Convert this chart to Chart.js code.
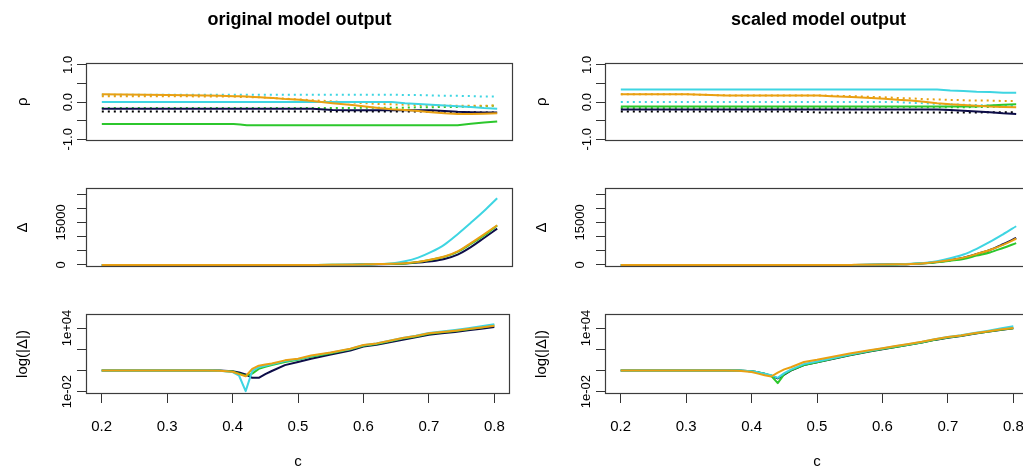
<!DOCTYPE html>
<html><head><meta charset="utf-8">
<script src="https://cdn.jsdelivr.net/npm/chart.js@4"></script>
<style>
html,body{margin:0;padding:0;background:#fff;overflow:hidden;width:1023px;height:471px;position:relative;}
canvas{position:absolute;}
</style></head><body>
<canvas id="oRho"></canvas><canvas id="oDelta"></canvas><canvas id="oLog"></canvas>
<canvas id="sRho"></canvas><canvas id="sDelta"></canvas><canvas id="sLog"></canvas>
<script>
// ---------- shared x grid (c) and tick labels ----------
const cValues = [0.20,0.30,0.36,0.38,0.40,0.41,0.42,0.43,0.44,0.45,0.46,0.48,0.50,0.52,0.55,0.58,0.60,0.62,0.64,0.66,0.68,0.70,0.72,0.74,0.76,0.78,0.80];
const xTickValues = [0.2,0.3,0.4,0.5,0.6,0.7,0.8];
const xTickLabels = ['0.2','0.3','0.4','0.5','0.6','0.7','0.8'];
const rhoTickValues = [-1,-0.5,0,0.5,1];
const rhoTickLabels = ['-1.0','','0.0','','1.0'];
const deltaTickValues = [0,5000,10000,15000,20000,25000];
const deltaTickLabels = ['0','','','15000','',''];
const logTickValues = [-2,0,2,4];            // log10 |Δ|
const logTickLabels = ['1e-02','','','1e+04'];
const panelTitles = ['original model output','scaled model output'];

// ---------- original model output: ρ (solid / dotted) ----------
const rhoOrigNavy     = [-0.18,-0.18,-0.18,-0.18,-0.18,-0.18,-0.18,-0.18,-0.18,-0.18,-0.18,-0.18,-0.18,-0.18,-0.21,-0.22,-0.22,-0.22,-0.22,-0.22,-0.22,-0.22,-0.24,-0.26,-0.27,-0.28,-0.28];
const rhoOrigCyan     = [0.00,0.00,0.00,0.00,0.00,0.00,0.00,0.00,0.00,0.00,0.00,0.00,0.00,0.00,0.00,0.00,0.00,0.00,0.00,-0.03,-0.05,-0.07,-0.09,-0.11,-0.13,-0.16,-0.18];
const rhoOrigGreen    = [-0.59,-0.59,-0.59,-0.59,-0.59,-0.60,-0.62,-0.62,-0.62,-0.62,-0.62,-0.62,-0.62,-0.62,-0.62,-0.62,-0.62,-0.62,-0.62,-0.62,-0.62,-0.62,-0.62,-0.62,-0.58,-0.55,-0.52];
const rhoOrigOrange   = [0.21,0.19,0.18,0.17,0.16,0.16,0.15,0.14,0.13,0.12,0.11,0.08,0.06,0.03,-0.03,-0.08,-0.12,-0.16,-0.19,-0.21,-0.24,-0.27,-0.30,-0.32,-0.32,-0.31,-0.30];
const rhoOrigNavyDot  = [-0.25,-0.25,-0.25,-0.25,-0.25,-0.25,-0.25,-0.25,-0.25,-0.25,-0.25,-0.25,-0.25,-0.25,-0.25,-0.25,-0.25,-0.25,-0.25,-0.25,-0.25,-0.26,-0.26,-0.27,-0.27,-0.28,-0.28];
const rhoOrigCyanDot  = [0.20,0.20,0.20,0.20,0.20,0.20,0.20,0.20,0.20,0.20,0.20,0.20,0.20,0.20,0.20,0.20,0.20,0.20,0.20,0.19,0.19,0.18,0.17,0.17,0.16,0.15,0.15];
const rhoOrigGreenDot = [-0.16,-0.16,-0.16,-0.16,-0.16,-0.16,-0.16,-0.16,-0.16,-0.16,-0.16,-0.16,-0.16,-0.16,-0.16,-0.16,-0.15,-0.15,-0.15,-0.15,-0.14,-0.14,-0.13,-0.13,-0.12,-0.11,-0.09];
const rhoOrigOrangeDot= [0.16,0.16,0.15,0.15,0.15,0.14,0.14,0.13,0.13,0.12,0.11,0.09,0.07,0.05,0.02,-0.01,-0.03,-0.05,-0.06,-0.07,-0.08,-0.09,-0.09,-0.10,-0.10,-0.10,-0.09];

// ---------- scaled model output: ρ ----------
const rhoScalNavy     = [-0.20,-0.20,-0.20,-0.20,-0.20,-0.20,-0.20,-0.20,-0.20,-0.20,-0.20,-0.20,-0.20,-0.20,-0.20,-0.20,-0.20,-0.20,-0.20,-0.20,-0.20,-0.21,-0.23,-0.25,-0.27,-0.30,-0.32];
const rhoScalCyan     = [0.34,0.34,0.34,0.34,0.34,0.34,0.34,0.34,0.34,0.34,0.34,0.34,0.34,0.34,0.34,0.34,0.34,0.34,0.34,0.34,0.34,0.31,0.30,0.28,0.27,0.25,0.25];
const rhoScalGreen    = [-0.12,-0.12,-0.12,-0.12,-0.12,-0.12,-0.12,-0.12,-0.12,-0.12,-0.12,-0.12,-0.12,-0.12,-0.12,-0.12,-0.12,-0.12,-0.12,-0.12,-0.12,-0.12,-0.12,-0.12,-0.09,-0.07,-0.06];
const rhoScalOrange   = [0.21,0.21,0.18,0.18,0.18,0.18,0.18,0.18,0.18,0.18,0.18,0.18,0.18,0.16,0.14,0.11,0.09,0.06,0.04,0.01,-0.03,-0.06,-0.08,-0.10,-0.12,-0.13,-0.14];
const rhoScalNavyDot  = [-0.25,-0.25,-0.25,-0.25,-0.25,-0.25,-0.25,-0.25,-0.25,-0.25,-0.25,-0.26,-0.28,-0.28,-0.28,-0.28,-0.28,-0.28,-0.28,-0.28,-0.28,-0.28,-0.28,-0.28,-0.27,-0.27,-0.27];
const rhoScalCyanDot  = [0.00,0.00,0.00,0.00,0.00,0.00,0.00,0.00,0.00,0.00,0.00,0.00,0.00,0.00,0.00,0.00,0.00,0.00,-0.02,-0.03,-0.05,-0.06,-0.07,-0.08,-0.09,-0.09,-0.09];
const rhoScalGreenDot = [-0.16,-0.16,-0.16,-0.16,-0.16,-0.16,-0.16,-0.16,-0.16,-0.16,-0.16,-0.16,-0.16,-0.16,-0.16,-0.14,-0.14,-0.14,-0.14,-0.14,-0.14,-0.14,-0.14,-0.13,-0.13,-0.12,-0.12];
const rhoScalOrangeDot= [0.21,0.21,0.18,0.18,0.18,0.18,0.18,0.18,0.18,0.18,0.18,0.18,0.18,0.17,0.16,0.14,0.13,0.11,0.10,0.08,0.07,0.06,0.05,0.04,0.04,0.03,0.03];

// ---------- Δ ----------
const deltaOrigNavy   = [1,1,1,1,1,1,0,0,0,0,1,3,6,13,32,80,160,250,380,560,850,1300,2100,3650,6300,9500,12800];
const deltaOrigCyan   = [1,1,1,1,1,0,0,1,2,3,4,8,11,22,50,110,200,330,540,1300,2600,4600,7200,10850,14850,19000,23500];
const deltaOrigGreen  = [1,1,1,1,1,0,0,0,1,2,3,6,10,20,42,100,200,320,400,560,1050,1850,2900,4650,7400,10400,13900];
const deltaOrigOrange = [1,1,1,1,1,0,0,1,3,4,4,9,13,25,50,110,220,350,420,600,1100,1950,3000,4800,7700,10800,14000];
const deltaScalNavy   = [1,1,1,1,1,1,0,0,0,0,1,3,6,10,26,60,130,230,360,620,1050,1700,2550,3850,5300,7300,9500];
const deltaScalCyan   = [1,1,1,1,1,1,0,0,0,1,1,4,7,13,32,70,130,240,400,680,1350,2400,3700,5700,8100,10800,13640];
const deltaScalGreen  = [1,1,1,1,1,1,0,0,0,0,1,3,6,11,28,63,120,210,340,580,1000,1500,2100,3300,4400,6000,7700];
const deltaScalOrange = [1,1,1,1,1,1,0,0,1,1,2,6,10,18,40,80,140,240,380,640,1100,1750,2600,3900,5300,7100,9250];

// ---------- log10 |Δ| ----------
const logOrigNavy   = [0,0,0,0,-0.08,-0.20,-0.38,-0.70,-0.70,-0.35,-0.05,0.50,0.80,1.10,1.50,1.88,2.25,2.42,2.65,2.90,3.12,3.37,3.50,3.63,3.78,3.93,4.10];
const logOrigCyan   = [0,0,0,-0.02,-0.15,-0.50,-1.95,-0.05,0.30,0.45,0.58,0.88,1.05,1.35,1.68,2.03,2.38,2.55,2.80,3.05,3.27,3.52,3.67,3.82,3.98,4.16,4.35];
const logOrigGreen  = [0,0,0,-0.02,-0.10,-0.30,-0.50,-0.30,0.15,0.35,0.50,0.80,1.00,1.30,1.62,2.00,2.33,2.50,2.75,3.00,3.20,3.45,3.60,3.72,3.88,4.05,4.25];
const logOrigOrange = [0,0,0,-0.03,-0.12,-0.35,-0.55,0.15,0.45,0.55,0.65,0.95,1.10,1.40,1.70,2.05,2.40,2.55,2.80,3.05,3.25,3.50,3.62,3.75,3.90,4.05,4.22];
const logScalNavy   = [0,0,0,0,-0.08,-0.18,-0.32,-0.50,-0.75,-0.40,-0.02,0.50,0.76,1.02,1.42,1.78,2.00,2.20,2.42,2.63,2.88,3.08,3.25,3.46,3.64,3.82,3.97];
const logScalCyan   = [0,0,0,0,-0.08,-0.18,-0.32,-0.45,-0.70,-0.25,0.08,0.60,0.85,1.10,1.50,1.85,2.07,2.27,2.47,2.68,2.95,3.15,3.32,3.53,3.73,3.95,4.17];
const logScalGreen  = [0,0,0,0,-0.08,-0.18,-0.30,-0.50,-1.19,-0.35,0.00,0.50,0.78,1.05,1.45,1.80,2.02,2.22,2.43,2.64,2.90,3.10,3.26,3.47,3.65,3.83,3.98];
const logScalOrange = [0,0,0,-0.03,-0.15,-0.30,-0.45,-0.57,-0.20,0.10,0.30,0.80,1.00,1.25,1.60,1.90,2.10,2.30,2.50,2.70,2.95,3.15,3.30,3.50,3.68,3.85,4.00];

// ---------- styles ----------
const COL = {navy:'#0d0d48', cyan:'#3ed5e2', green:'#2cc72c', orange:'#e9a012'};
const FAMILY = '"Liberation Sans", Arial, Helvetica, sans-serif';
const YTICK_FONT = 13;
Chart.defaults.font.family = FAMILY;

function ds(values, color, dotted, smooth){
  return {
    data: values.map((v,i)=>({x:cValues[i], y:v})),
    borderColor: color, backgroundColor: color, borderWidth: 2,
    pointRadius: 0, fill: false, tension: 0,
    cubicInterpolationMode: smooth ? 'monotone' : 'default',
    borderDash: dotted ? [2,4] : [], borderCapStyle: 'butt', borderJoinStyle: 'round'
  };
}

const measureCtx = document.createElement('canvas').getContext('2d');
function widest(labels){
  measureCtx.font = `normal ${YTICK_FONT}px ${FAMILY}`;
  return Math.max(...labels.map(l=>measureCtx.measureText(l).width));
}

const boxPlugin = {
  id:'box',
  afterDatasetsDraw(chart){
    const {ctx, chartArea:a} = chart;
    ctx.save();
    ctx.strokeStyle = '#3c3c3c'; ctx.lineWidth = 1.2;
    const l = Math.round(a.left)+0.5, t = Math.round(a.top)+0.5;
    const r = Math.round(a.right)-0.5, b = Math.round(a.bottom)-0.5;
    ctx.strokeRect(l, t, r-l, b-t);
    ctx.restore();
  }
};

const CANVAS_W = 520, AXIS_W = 86, RIGHT_PAD = 7, TICK_LEN = 9;

function makePanel(id, colX, top, height, cfg){
  const cv = document.getElementById(id);
  cv.width = CANVAS_W; cv.height = height;
  cv.style.left = colX+'px'; cv.style.top = top+'px';
  cv.style.width = CANVAS_W+'px'; cv.style.height = height+'px';
  const yPad = AXIS_W - TICK_LEN - cfg.labelCx - widest(cfg.yLabels)/2;
  new Chart(cv, {
    type:'line',
    data:{datasets: cfg.datasets},
    plugins:[boxPlugin],
    options:{
      responsive:false, animation:false, events:[],
      layout:{padding:{top:cfg.padTop, bottom:cfg.padBottom, left:0, right:RIGHT_PAD}},
      plugins:{
        legend:{display:false}, tooltip:{enabled:false},
        title: cfg.title ? {display:true, text:cfg.title, fullSize:false, color:'#000',
               font:{size:18, weight:'bold', family:FAMILY}, padding:{top:9, bottom:32}} : {display:false}
      },
      scales:{
        x:{
          type:'linear', min:0.176, max:0.824, display: cfg.showX,
          afterBuildTicks: s => { s.ticks = xTickValues.map(v=>({value:v})); },
          afterFit: s => { if (cfg.showX) s.height = 77; },
          ticks:{callback:(v,i)=>xTickLabels[i], color:'#000', font:{size:15}, padding:15, autoSkip:false, maxRotation:0},
          grid:{drawOnChartArea:false, drawTicks:true, tickLength:TICK_LEN, color:'#333', lineWidth:1},
          border:{display:false},
          title:{display:true, text:'c', color:'#000', font:{size:15}, padding:{top:0, bottom:0}}
        },
        y:{
          type:'linear', min:cfg.yMin, max:cfg.yMax,
          afterBuildTicks: s => { s.ticks = cfg.yTicks.map(v=>({value:v})); },
          afterFit: s => { s.width = AXIS_W; },
          ticks:{callback:(v,i)=>cfg.yLabels[i], color:'#000', font:{size:YTICK_FONT}, minRotation:90, maxRotation:90,
                 crossAlign:'center', padding:yPad, autoSkip:false},
          grid:{drawOnChartArea:false, drawTicks:true, tickLength:TICK_LEN, color:'#333', lineWidth:1},
          border:{display:false},
          title:{display:true, text:cfg.yTitle, color:'#000', font:{size:15}, padding:{top:14, bottom:0}}
        }
      }
    }
  });
}

// first dataset in each list is drawn on top
const columns = [
  {x:0, title:panelTitles[0],
   rho:[[rhoOrigOrange,COL.orange,false],[rhoOrigCyan,COL.cyan,false],[rhoOrigGreen,COL.green,false],[rhoOrigNavy,COL.navy,false],
        [rhoOrigOrangeDot,COL.orange,true],[rhoOrigCyanDot,COL.cyan,true],[rhoOrigGreenDot,COL.green,true],[rhoOrigNavyDot,'#000000',true]],
   delta:[[deltaOrigOrange,COL.orange],[deltaOrigCyan,COL.cyan],[deltaOrigGreen,COL.green],[deltaOrigNavy,COL.navy]],
   log:[[logOrigOrange,COL.orange],[logOrigCyan,COL.cyan],[logOrigGreen,COL.green],[logOrigNavy,COL.navy]],
   ids:['oRho','oDelta','oLog']},
  {x:519, title:panelTitles[1],
   rho:[[rhoScalOrange,COL.orange,false],[rhoScalCyan,COL.cyan,false],[rhoScalGreen,COL.green,false],[rhoScalNavy,COL.navy,false],
        [rhoScalOrangeDot,COL.orange,true],[rhoScalCyanDot,COL.cyan,true],[rhoScalGreenDot,COL.green,true],[rhoScalNavyDot,'#000000',true]],
   delta:[[deltaScalOrange,COL.orange],[deltaScalCyan,COL.cyan],[deltaScalGreen,COL.green],[deltaScalNavy,COL.navy]],
   log:[[logScalOrange,COL.orange],[logScalCyan,COL.cyan],[logScalGreen,COL.green],[logScalNavy,COL.navy]],
   ids:['sRho','sDelta','sLog']}
];

columns.forEach(col=>{
  makePanel(col.ids[0], col.x, 0, 150, {
    title: col.title, showX:false, padTop:0, padBottom:9, labelCx:68,
    datasets: col.rho.map(s=>ds(s[0],s[1],s[2],false)),
    yMin:-1.046, yMax:1.062, yTicks:rhoTickValues, yLabels:rhoTickLabels, yTitle:'ρ'
  });
  makePanel(col.ids[1], col.x, 150, 140, {
    title:null, showX:false, padTop:38, padBottom:23, labelCx:61,
    datasets: col.delta.map(s=>ds(s[0],s[1],false,true)),
    yMin:-707, yMax:27120, yTicks:deltaTickValues, yLabels:deltaTickLabels, yTitle:'Δ'
  });
  makePanel(col.ids[2], col.x, 290, 181, {
    title:null, showX:true, padTop:24, padBottom:0, labelCx:67,
    datasets: col.log.map(s=>ds(s[0],s[1],false,false)),
    yMin:-2.22, yMax:5.32, yTicks:logTickValues, yLabels:logTickLabels, yTitle:'log(|Δ|)'
  });
});
</script>
</body></html>
